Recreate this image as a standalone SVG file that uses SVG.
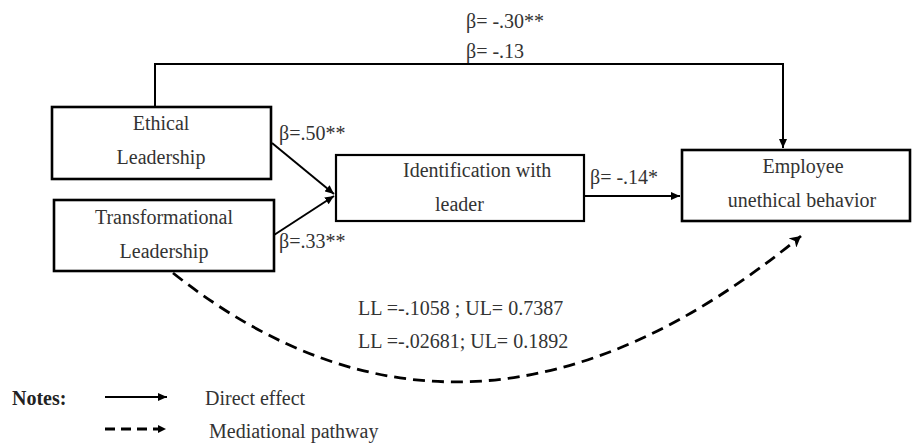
<svg xmlns="http://www.w3.org/2000/svg" width="912" height="444" viewBox="0 0 912 444">
<defs>
<style>
.box{fill:#fff;stroke:#000;stroke-width:2.6}
.t{font-family:"Liberation Serif","Times New Roman",serif;font-size:20px;fill:#333}
.c{text-anchor:middle}
.line{fill:none;stroke:#000;stroke-width:2}
.dash{fill:none;stroke:#000;stroke-width:2.8;stroke-dasharray:12 7}
</style>
<marker id="ah" markerUnits="userSpaceOnUse" markerWidth="9" markerHeight="8" refX="9" refY="4" orient="auto">
<path d="M0,0 L9,4 L0,8 z" fill="#000"/>
</marker>
<marker id="ahd" markerUnits="userSpaceOnUse" markerWidth="12" markerHeight="12" refX="11" refY="6" orient="auto">
<path d="M0,0 L11,6 L0,12 L3,6 z" fill="#000"/>
</marker>
</defs>
<g id="connectors">
<polyline class="line" points="155,107 155,64 783,64 783,148" marker-end="url(#ah)"/>
<line class="line" x1="272" y1="143" x2="334" y2="194" marker-end="url(#ah)"/>
<line class="line" x1="274" y1="235" x2="334" y2="196" marker-end="url(#ah)"/>
<line class="line" x1="584" y1="196" x2="680" y2="196" marker-end="url(#ah)"/>
<path class="dash" d="M173,273 Q470,508 801,236" marker-end="url(#ahd)"/>
<text class="t" x="466" y="28">β= -.30**</text>
<text class="t" x="466" y="58">β= -.13</text>
<text class="t" x="279" y="140">β=.50**</text>
<text class="t" x="279" y="248">β=.33**</text>
<text class="t" x="590" y="184">β= -.14*</text>
<text class="t" x="358" y="315">LL =-.1058 ; UL= 0.7387</text>
<text class="t" x="358" y="348">LL =-.02681; UL= 0.1892</text>
</g>
<g id="ethical">
<rect class="box" x="52" y="107" width="219" height="72"/>
<text class="t c" x="161" y="130">Ethical</text>
<text class="t c" x="161" y="164">Leadership</text>
</g>
<g id="transformational">
<rect class="box" x="54" y="200" width="220" height="71"/>
<text class="t c" x="164" y="224">Transformational</text>
<text class="t c" x="164" y="258">Leadership</text>
</g>
<g id="identification">
<rect class="box" x="336" y="155" width="248" height="66" style="stroke-width:2.2"/>
<text class="t" x="403" y="177">Identification with</text>
<text class="t" x="435" y="211">leader</text>
</g>
<g id="employee">
<rect class="box" x="682" y="150" width="228" height="71"/>
<text class="t c" x="803" y="173">Employee</text>
<text class="t c" x="802" y="207">unethical behavior</text>
</g>
<g id="legend">
<text class="t" x="12" y="405" style="font-weight:bold;fill:#222">Notes:</text>
<line class="line" x1="105" y1="397" x2="167" y2="397" marker-end="url(#ah)"/>
<text class="t" x="205" y="405">Direct effect</text>
<line x1="105" y1="429" x2="158" y2="429" stroke="#000" stroke-width="2.8" stroke-dasharray="10 6"/>
<path d="M158,425 L166,429 L158,433 z" fill="#000"/>
<text class="t" x="209" y="438">Mediational pathway</text>
</g>
</svg>
